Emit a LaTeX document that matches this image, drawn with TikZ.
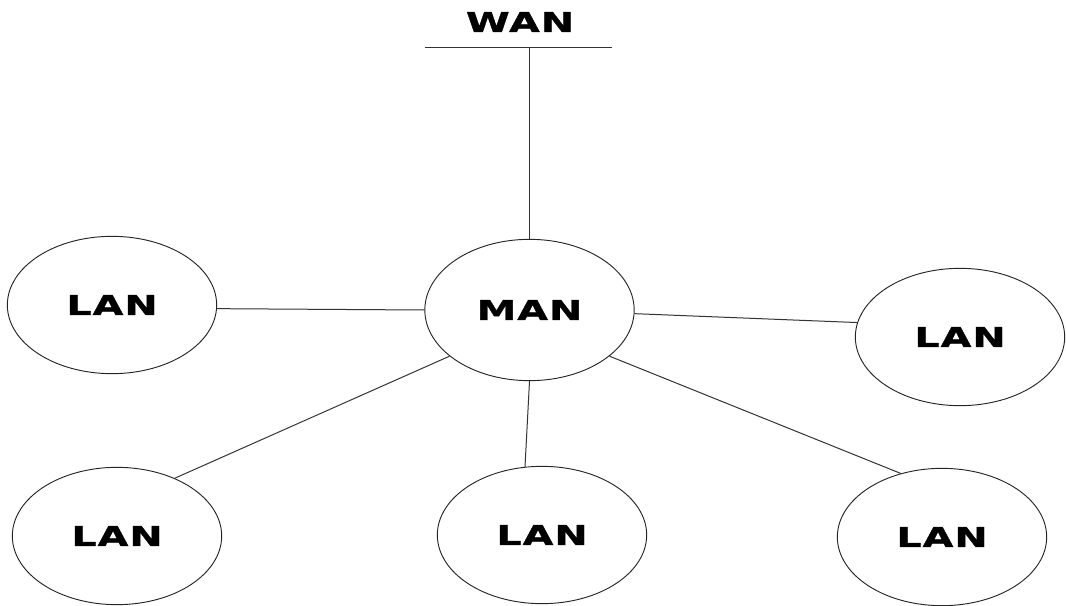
\documentclass[tikz,border=0pt]{standalone}
\usepackage{fontspec}
\usetikzlibrary{shapes.geometric}
\newfontfamily\netfont{DejaVu Sans}[FakeStretch=1.45, LetterSpace=4, FakeBold=1.5]

\begin{document}
\begin{tikzpicture}[x=0.75pt, y=-0.75pt,
    net/.style={ellipse, draw=black!85, line width=0.7pt, inner sep=0pt},
    lan/.style={net, minimum width=157pt, minimum height=103pt},
    tag/.style={font=\netfont\bfseries\fontsize{20.5}{21}\selectfont},
    link/.style={draw=black!80, line width=0.75pt}]
    \useasboundingbox (0, 0) rectangle (1066, 606);

    \coordinate (busW) at (425, 48);
    \coordinate (busE) at (612, 48);

    \node[tag] (wan) at (520, 22) {WAN};
    \node[net, tag, minimum width=157pt, minimum height=106pt] (man) at (529.5, 310) {MAN};
    \node[lan, tag] (lanW)  at (112, 305) {LAN};
    \node[lan, tag] (lanE)  at (960, 337) {LAN};
    \node[lan, tag] (lanSW) at (117, 536) {LAN};
    \node[lan, tag] (lanS)  at (542, 535) {LAN};
    \node[lan, tag] (lanSE) at (942, 537) {LAN};


    \draw[link] (busW) -- (busE);
    \draw[link] (man.north) -- (man.north |- busW);

    \draw[link] (man.180) -- (lanW.358);
    \draw[link] (man.358) -- (lanE.172);
    \draw[link] (man.210) -- (lanSW.45);
    \draw[link] (man.270) -- (lanS.104);
    \draw[link] (man.330) -- (lanSE.123);

\end{tikzpicture}
\end{document}
